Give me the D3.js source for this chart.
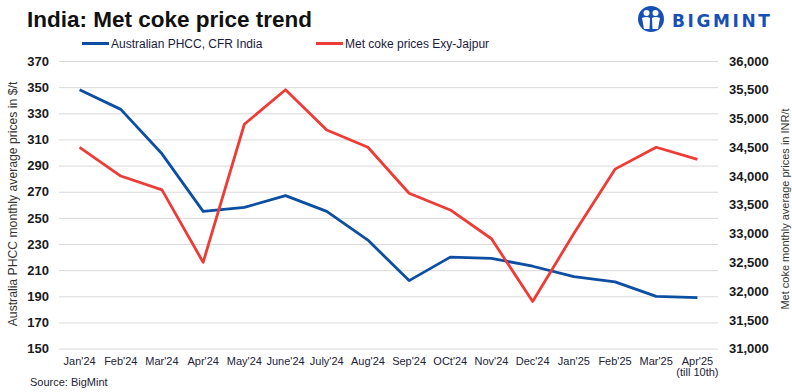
<!DOCTYPE html>
<html>
<head>
<meta charset="utf-8">
<script src="https://cdn.jsdelivr.net/npm/d3@7"></script>
<style>
  body { margin: 0; background: #fff; }
  svg { display: block; font-family: "Liberation Sans", Arial, sans-serif; }
</style>
</head>
<body>
<div id="chart"></div>
<script>
var months = ["Jan'24", "Feb'24", "Mar'24", "Apr'24", "May'24", "June'24", "July'24", "Aug'24",
              "Sep'24", "OCt'24", "Nov'24", "Dec'24", "Jan'25", "Feb'25", "Mar'25", "Apr'25"];
var phcc = [348, 333, 299, 255, 258, 267, 255, 233, 202, 220, 219, 213, 205, 201, 190, 189];
var exyJajpur = [34500, 34000, 33760, 32500, 34900, 35500, 34800, 34500, 33700, 33410, 32910, 31820, 33000, 34120, 34500, 34290];
var leftTicks = [150, 170, 190, 210, 230, 250, 270, 290, 310, 330, 350, 370];
var rightTicks = [31000, 31500, 32000, 32500, 33000, 33500, 34000, 34500, 35000, 35500, 36000];

var w = 792, h = 392;
var plotLeft = 59, plotRight = 718, plotTop = 61, plotBottom = 348.6;
var blue = "#0b4ea2", red = "#ee3b36";

var svg = d3.select("#chart").append("svg").attr("width", w).attr("height", h);

var x = d3.scaleBand().domain(months).range([plotLeft, plotRight]);
var yL = d3.scaleLinear().domain([150, 370]).range([plotBottom, plotTop]);
var yR = d3.scaleLinear().domain([31000, 36000]).range([plotBottom, plotTop]);

// grid + left axis
var gL = svg.append("g").attr("transform", "translate(" + plotLeft + ",0)")
    .call(d3.axisLeft(yL).tickValues(leftTicks).tickSize(-(plotRight - plotLeft)).tickPadding(10));
gL.select(".domain").remove();
gL.selectAll("line").attr("stroke", "#d9d9d9").attr("stroke-width", 1);
gL.selectAll("text").attr("font-size", 13).attr("font-weight", "bold").attr("fill", "#1a1a1a");

var gR = svg.append("g").attr("transform", "translate(" + plotRight + ",0)")
    .call(d3.axisRight(yR).tickValues(rightTicks).tickSize(0).tickPadding(11).tickFormat(d3.format(",")));
gR.select(".domain").remove();
gR.selectAll("text").attr("font-size", 13).attr("font-weight", "bold").attr("fill", "#1a1a1a");

var gX = svg.append("g").attr("transform", "translate(0," + plotBottom + ")")
    .call(d3.axisBottom(x).tickSize(0).tickPadding(8.5));
gX.select(".domain").remove();
gX.selectAll("text").attr("font-size", 11).attr("fill", "#222236");
gX.selectAll(".tick").filter(d => d === "Apr'25").select("text")
    .append("tspan").attr("x", 0).attr("dy", "1.05em").text("(till 10th)");

var cx = d => x(d) + x.bandwidth() / 2;

svg.append("path").datum(phcc)
    .attr("fill", "none").attr("stroke", blue).attr("stroke-width", 2.8).attr("stroke-linejoin", "round")
    .attr("d", d3.line().x((d, i) => cx(months[i])).y(d => yL(d)));

svg.append("path").datum(exyJajpur)
    .attr("fill", "none").attr("stroke", red).attr("stroke-width", 2.8).attr("stroke-linejoin", "round")
    .attr("d", d3.line().x((d, i) => cx(months[i])).y(d => yR(d)));

// axis titles
svg.append("text").attr("transform", "translate(17,204) rotate(-90)")
    .attr("text-anchor", "middle").attr("font-size", 12.2).attr("fill", "#333")
    .text("Australia PHCC monthly average prices in $/t");
svg.append("text").attr("transform", "translate(789,209) rotate(-90)")
    .attr("text-anchor", "middle").attr("font-size", 11).attr("fill", "#333")
    .text("Met coke monthly average prices in INR/t");

// title
svg.append("text").attr("x", 27).attr("y", 27)
    .attr("font-size", 22.5).attr("font-weight", "bold").attr("fill", "#111")
    .text("India: Met coke price trend");

// legend
var legend = [["Australian PHCC, CFR India", blue, 82], ["Met coke prices Exy-Jajpur", red, 316]];
legend.forEach(function(l) {
    svg.append("line").attr("x1", l[2]).attr("x2", l[2] + 27).attr("y1", 43.5).attr("y2", 43.5)
        .attr("stroke", l[1]).attr("stroke-width", 3);
    svg.append("text").attr("x", l[2] + 29).attr("y", 47.5).attr("font-size", 12).attr("fill", "#1a1a3a").text(l[0]);
});

// source
svg.append("text").attr("x", 30).attr("y", 386).attr("font-size", 11).attr("fill", "#222236").text("Source: BigMint");

// logo
var logo = svg.append("g").attr("transform", "translate(651,19)");
logo.append("circle").attr("r", 13).attr("fill", "#1750b5");
logo.append("circle").attr("cx", -4.5).attr("cy", -6).attr("r", 3).attr("fill", "#fff");
logo.append("circle").attr("cx", 4.5).attr("cy", -6).attr("r", 3).attr("fill", "#fff");
logo.append("path").attr("d", "M-9,-1 Q-4.5,-3 -1,-1 L-1.5,10 L-7,10 Z").attr("fill", "#fff");
logo.append("path").attr("d", "M9,-1 Q4.5,-3 1,-1 L1.5,10 L7,10 Z").attr("fill", "#fff");
svg.append("text").attr("x", 672).attr("y", 26.5).attr("font-size", 17).attr("font-weight", "bold")
    .attr("fill", "#1750b5").attr("letter-spacing", 2.6)
    .style("font-family", "'DejaVu Sans', sans-serif").text("BIGMINT");
</script>
</body>
</html>
